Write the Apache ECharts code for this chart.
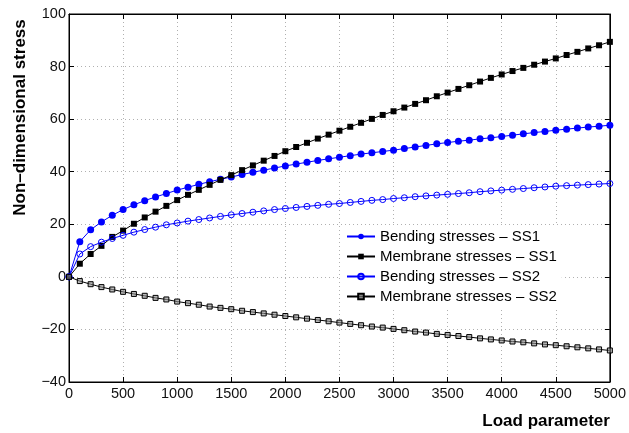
<!DOCTYPE html>
<html>
<head>
<meta charset="utf-8">
<script src="https://cdn.jsdelivr.net/npm/echarts@6/dist/echarts.min.js"></script>
<style>
html,body{margin:0;padding:0;background:#fff;}
#chart{width:629px;height:433px;}
</style>
</head>
<body>
<div id="chart"></div>
<script>
const loads = [0,100,200,300,400,500,600,700,800,900,1000,1100,1200,1300,1400,1500,1600,1700,1800,1900,2000,2100,2200,2300,2400,2500,2600,2700,2800,2900,3000,3100,3200,3300,3400,3500,3600,3700,3800,3900,4000,4100,4200,4300,4400,4500,4600,4700,4800,4900,5000];

const bendingSS1 = [0,13.4,17.9,20.9,23.4,25.6,27.4,29.0,30.4,31.7,33.0,34.1,35.2,36.2,37.1,38.0,38.9,39.8,40.6,41.4,42.2,42.9,43.6,44.3,44.9,45.5,46.1,46.7,47.2,47.7,48.2,48.8,49.4,50.0,50.6,51.1,51.6,52.0,52.5,52.9,53.4,53.9,54.4,54.9,55.3,55.8,56.2,56.6,57.0,57.3,57.7];

const membraneSS1 = [0,5.0,8.7,11.8,15.2,17.6,20.2,22.6,24.8,27.0,29.2,31.2,33.1,35.0,36.9,38.7,40.6,42.4,44.2,46.0,47.8,49.4,51.0,52.6,54.1,55.6,57.1,58.6,60.1,61.6,63.0,64.4,65.8,67.2,68.7,70.1,71.5,72.9,74.3,75.7,77.0,78.3,79.5,80.7,81.9,83.1,84.4,85.6,86.9,88.1,89.4];

const bendingSS2 = [0,8.7,11.5,13.2,14.6,15.8,17.0,18.0,18.9,19.8,20.5,21.2,21.8,22.4,23.0,23.6,24.1,24.6,25.1,25.6,26.0,26.4,26.8,27.2,27.6,27.9,28.3,28.7,29.1,29.4,29.8,30.1,30.5,30.8,31.1,31.4,31.7,32.0,32.4,32.7,33.0,33.3,33.6,33.9,34.2,34.5,34.7,34.9,35.1,35.3,35.5];

const membraneSS2 = [0,-1.6,-2.8,-3.9,-4.8,-5.7,-6.5,-7.2,-8.0,-8.6,-9.4,-10.0,-10.6,-11.3,-11.8,-12.3,-12.9,-13.4,-13.9,-14.4,-14.9,-15.4,-15.9,-16.4,-16.9,-17.4,-17.9,-18.4,-18.9,-19.3,-19.8,-20.3,-20.8,-21.2,-21.7,-22.1,-22.5,-22.9,-23.4,-23.8,-24.2,-24.6,-24.9,-25.3,-25.7,-26.0,-26.4,-26.8,-27.2,-27.6,-28.0];

const seriesNames = ['Bending stresses \u2013 SS1','Membrane stresses \u2013 SS1','Bending stresses \u2013 SS2','Membrane stresses \u2013 SS2'];
const xTitle = 'Load parameter';
const yTitle = 'Non\u2013dimensional stress';

const FONT = "'Liberation Sans', Arial, Helvetica, sans-serif";
const pair = arr => loads.map((x, i) => [x, arr[i]]);
const fmtNum = v => String(v).replace('-', '\u2212');

const chart = echarts.init(document.getElementById('chart'), null, {renderer: 'canvas'});

const gridLine = {show: true, lineStyle: {color: '#b0b0b0', width: 1, type: [1, 3]}};

const option = {
  backgroundColor: '#fff',
  animation: false,
  grid: {left: 69, right: 15, top: 14, bottom: 51, show: true, borderColor: '#000', borderWidth: 1, backgroundColor: 'transparent'},
  xAxis: [
    {
      type: 'value', min: 0, max: 5000, interval: 500, position: 'bottom',
      axisLine: {show: true, onZero: false, lineStyle: {color: '#000', width: 1}},
      axisTick: {show: true, inside: true, length: 5, lineStyle: {color: '#000'}},
      axisLabel: {color: '#111', fontFamily: FONT, fontSize: 14.5, margin: 4, formatter: fmtNum},
      splitLine: gridLine,
      name: xTitle, nameLocation: 'end', nameGap: 0,
      nameTextStyle: {fontFamily: FONT, fontSize: 17, fontWeight: 'bold', color: '#000', align: 'right', verticalAlign: 'top', padding: [31, 0, 0, 0]}
    },
    {
      type: 'value', min: 0, max: 5000, interval: 500, position: 'top',
      axisLine: {show: true, onZero: false, lineStyle: {color: '#000', width: 1}},
      axisTick: {show: true, inside: true, length: 5, lineStyle: {color: '#000'}},
      axisLabel: {show: false}, splitLine: {show: false}
    }
  ],
  yAxis: [
    {
      type: 'value', min: -40, max: 100, interval: 20, position: 'left',
      axisLine: {show: true, onZero: false, lineStyle: {color: '#000', width: 1}},
      axisTick: {show: true, inside: true, length: 5, lineStyle: {color: '#000'}},
      axisLabel: {color: '#111', fontFamily: FONT, fontSize: 14.5, margin: 3, formatter: fmtNum},
      splitLine: gridLine
    },
    {
      type: 'value', min: -40, max: 100, interval: 20, position: 'right',
      axisLine: {show: true, onZero: false, lineStyle: {color: '#000', width: 1}},
      axisTick: {show: true, inside: true, length: 5, lineStyle: {color: '#000'}},
      axisLabel: {show: false}, splitLine: {show: false}
    }
  ],
  legend: {
    left: 341, top: 225, orient: 'vertical',
    backgroundColor: '#fff', borderWidth: 0, padding: [4, 5, 4, 5],
    itemWidth: 28, itemHeight: 7, itemGap: 5,
    textStyle: {fontFamily: FONT, fontSize: 15, color: '#000'},
    data: seriesNames
  },
  graphic: [
    {
      type: 'text', x: 20, y: 117.5, rotation: Math.PI / 2,
      style: {text: yTitle, font: "bold 17px " + FONT, fill: '#000', textAlign: 'center', textVerticalAlign: 'middle'}
    }
  ],
  series: [
    {
      name: seriesNames[0], type: 'line', data: pair(bendingSS1),
      symbol: 'circle', symbolSize: 7, showSymbol: true,
      lineStyle: {color: '#0000ff', width: 1}, itemStyle: {color: '#0000ff'}, z: 3
    },
    {
      name: seriesNames[1], type: 'line', data: pair(membraneSS1),
      symbol: 'rect', symbolSize: 6, showSymbol: true,
      lineStyle: {color: '#000', width: 1}, itemStyle: {color: '#000'}, z: 4
    },
    {
      name: seriesNames[2], type: 'line', data: pair(bendingSS2),
      symbol: 'circle', symbolSize: 6, showSymbol: true,
      lineStyle: {color: '#0000ff', width: 1}, itemStyle: {color: 'rgba(255,255,255,0)', borderColor: '#0000ff', borderWidth: 1}, z: 5
    },
    {
      name: seriesNames[3], type: 'line', data: pair(membraneSS2),
      symbol: 'rect', symbolSize: 5, showSymbol: true,
      lineStyle: {color: '#000', width: 1}, itemStyle: {color: 'rgba(140,140,140,0.6)', borderColor: '#000', borderWidth: 1}, z: 6
    }
  ]
};
chart.setOption(option);
</script>
</body>
</html>
